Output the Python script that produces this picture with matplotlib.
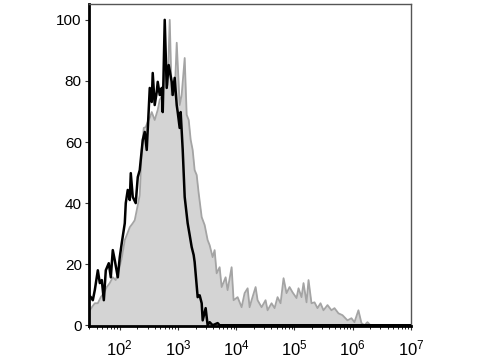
import numpy as np
import matplotlib.pyplot as plt

plt.rcParams['font.family'] = ['Liberation Sans', 'DejaVu Sans']
plt.rcParams['mathtext.fontset'] = 'custom'
plt.rcParams['mathtext.rm'] = 'Liberation Sans'
plt.rcParams['mathtext.it'] = 'Liberation Sans'

# log10 of fluorescence intensity and % of max
black_logx = [1.468, 1.503, 1.537, 1.571, 1.623, 1.657, 1.691, 1.726, 1.760, 1.811,
              1.846, 1.880, 1.914, 1.966, 2.000, 2.034, 2.086, 2.103, 2.137, 2.172,
              2.189, 2.223, 2.274, 2.309, 2.343, 2.360, 2.395, 2.429, 2.463, 2.497,
              2.515, 2.549, 2.566, 2.600, 2.635, 2.652, 2.686, 2.720, 2.738, 2.772,
              2.806, 2.840, 2.892, 2.909, 2.943, 2.978, 2.995, 3.029, 3.046, 3.081,
              3.115, 3.166, 3.201, 3.235, 3.269, 3.286, 3.338, 3.372, 3.407, 3.424,
              3.475, 3.509, 3.544, 3.595, 3.681, 3.715, 7.0]
black_pct = [9.8, 9.2, 8.2, 11.5, 18.0, 13.8, 14.8, 8.2, 18.0, 20.3,
             15.7, 24.6, 21.3, 15.7, 22.3, 26.9, 33.4, 40.0, 44.3, 41.0,
             49.8, 42.0, 40.0, 48.5, 50.8, 54.1, 60.7, 63.3, 57.4, 70.5,
             77.7, 73.1, 82.6, 72.1, 76.4, 79.7, 75.4, 77.7, 69.8, 100.0,
             77.7, 85.2, 79.7, 75.4, 81.0, 72.1, 69.8, 64.6, 69.8, 57.4,
             42.0, 33.4, 29.5, 25.6, 23.0, 20.7, 9.2, 9.8, 7.2, 1.6,
             5.6, 0.0, 1.0, 0.0, 0.7, 0.0, 0.0]

gray_logx = [1.468, 1.520, 1.571, 1.623, 1.674, 1.726, 1.777, 1.828, 1.880, 1.931,
             1.983, 2.034, 2.086, 2.120, 2.172, 2.223, 2.257, 2.292, 2.343, 2.377,
             2.412, 2.446, 2.480, 2.515, 2.549, 2.600, 2.652, 2.686, 2.738, 2.789,
             2.823, 2.858, 2.892, 2.909, 2.943, 2.978, 3.029, 3.063, 3.115, 3.149,
             3.184, 3.218, 3.252, 3.286, 3.321, 3.355, 3.407, 3.458, 3.509, 3.544,
             3.595, 3.629, 3.664, 3.715, 3.750, 3.818, 3.852, 3.921, 3.955, 4.024,
             4.093, 4.144, 4.196, 4.230, 4.264, 4.333, 4.367, 4.436, 4.504, 4.539,
             4.607, 4.659, 4.710, 4.762, 4.813, 4.864, 4.916, 4.967, 5.036, 5.070,
             5.122, 5.156, 5.208, 5.242, 5.293, 5.345, 5.396, 5.448, 5.499, 5.568,
             5.636, 5.688, 5.756, 5.825, 5.911, 5.979, 6.031, 6.099, 6.151, 6.202,
             6.254, 6.305, 6.991]
gray_pct = [4.3, 5.9, 7.2, 7.2, 9.2, 10.5, 12.5, 13.8, 15.7, 14.8,
            18.0, 22.0, 27.9, 29.5, 32.1, 33.4, 34.4, 37.7, 42.6, 57.4,
            64.6, 64.9, 66.6, 67.9, 69.8, 67.2, 70.5, 73.8, 75.4, 86.9,
            78.7, 100.0, 75.4, 79.7, 75.4, 92.5, 72.1, 75.4, 87.5, 68.9,
            67.2, 60.7, 57.4, 50.8, 49.2, 43.3, 35.4, 32.8, 27.9, 26.2,
            22.3, 24.6, 17.0, 19.0, 12.5, 15.7, 11.5, 19.0, 8.2, 9.2,
            5.9, 10.5, 12.1, 5.9, 8.2, 12.5, 8.2, 5.9, 8.2, 4.9,
            7.2, 5.6, 9.2, 7.2, 15.4, 10.5, 12.5, 10.8, 8.9, 12.1,
            9.2, 13.8, 7.5, 14.8, 7.2, 7.5, 5.6, 7.2, 4.9, 6.6,
            4.9, 5.6, 3.9, 3.3, 1.6, 2.3, 1.0, 4.9, 0.7, 0.0,
            1.0, 0.0, 0.0]

fig = plt.figure(figsize=(4.8, 3.6), dpi=100)
ax = fig.add_axes([0.185, 0.094, 0.671, 0.895])

gx = 10 ** np.array(gray_logx)
bx = 10 ** np.array(black_logx)
ax.fill_between(gx, 0, gray_pct, color='#d4d4d4', lw=0, zorder=1)
ax.plot(gx, gray_pct, color='#a4a4a4', lw=1.3, zorder=2)
ax.plot(bx, black_pct, color='black', lw=1.8, zorder=3)

ax.set_xscale('log')
ax.set_xlim(10 ** 1.468, 1e7)
ax.set_ylim(-0.3, 105.2)
ax.set_yticks([0, 20, 40, 60, 80, 100])
ax.set_xticks([1e2, 1e3, 1e4, 1e5, 1e6, 1e7])
ax.set_xticklabels([r'$10^{%d}$' % k for k in range(2, 8)])

ax.tick_params(axis='both', labelsize=11, length=3, width=0.8, color='#333333', pad=2)
ax.tick_params(axis='x', which='major', pad=6, labelsize=12)
ax.tick_params(axis='x', which='minor', length=2, width=0.6)

for s in ['left', 'bottom']:
    ax.spines[s].set_linewidth(2)
    ax.spines[s].set_color('black')
for s in ['top', 'right']:
    ax.spines[s].set_linewidth(1)
    ax.spines[s].set_color('#555555')

fig.savefig('out.png', dpi=100)
